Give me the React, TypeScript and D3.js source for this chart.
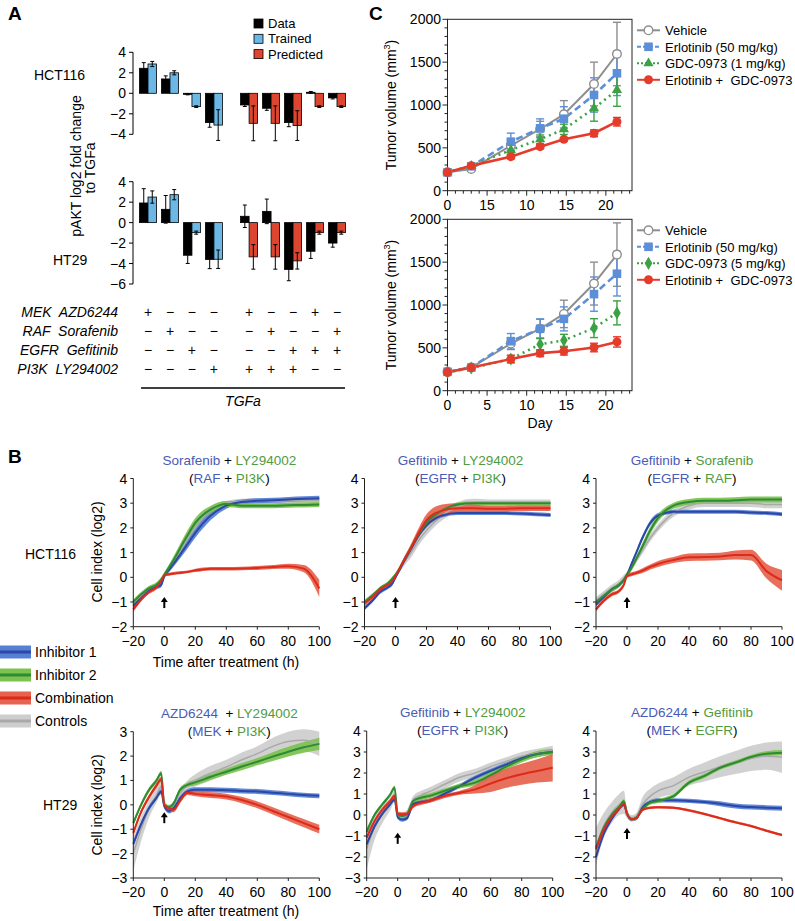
import React from 'react';
import * as d3 from 'd3';

const FONT = "'Liberation Sans', Arial, Helvetica, sans-serif";

// ================= Panel A data =================
const cellLinesA = ['HCT116', 'HT29'];
const tableRows = ['MEK  AZD6244', 'RAF  Sorafenib', 'EGFR  Gefitinib', 'PI3K  LY294002'];
const signMEK = ['+', '−', '−', '−', '+', '−', '−', '+', '−'];
const signRAF = ['−', '+', '−', '−', '−', '+', '−', '−', '+'];
const signEGFR = ['−', '−', '+', '−', '−', '−', '+', '+', '+'];
const signPI3K = ['−', '−', '−', '+', '+', '+', '+', '−', '−'];
const modelKind = ['Trained', 'Trained', 'Trained', 'Trained', 'Predicted', 'Predicted', 'Predicted', 'Predicted', 'Predicted'];
const hctData = [2.44, 1.4, -0.1, -2.86, -1.14, -1.46, -2.86, 0.1, -0.45];
const hctDataErr = [0.55, 0.3, 0.05, 0.45, 0.15, 0.2, 0.4, 0.08, 0.1];
const hctModel = [2.86, 2.0, -1.3, -3.1, -2.93, -2.93, -3.15, -1.3, -1.3];
const hctModelErr = [0.25, 0.2, 0.08, 1.5, 1.7, 1.7, 1.45, 0.08, 0.08];
const ht29Data = [1.92, 1.3, -3.19, -3.6, 0.62, 1.1, -4.58, -2.8, -2.0];
const ht29DataErr = [1.4, 1.35, 0.8, 0.9, 1.1, 1.2, 1.1, 0.7, 0.4];
const ht29Model = [2.5, 2.73, -0.98, -3.58, -3.35, -3.35, -3.74, -0.98, -0.98];
const ht29ModelErr = [0.6, 0.5, 0.15, 0.9, 1.2, 1.2, 0.8, 0.15, 0.15];
const legendA = ['Data', 'Trained', 'Predicted'];
const colorA: Record<string, string> = { Data: '#000000', Trained: '#6bb8e6', Predicted: '#dc4530' };

// ================= Panel C data =================
const days = [0, 3, 8, 11.7, 14.7, 18.5, 21.4];
const vehTop = [214, 253, 525, 720, 891, 1245, 1595];
const vehTopErr = [15, 20, 60, 90, 160, 255, 370];
const erlTop = [214, 285, 572, 728, 840, 1117, 1370];
const erlTopErr = [15, 20, 100, 110, 140, 200, 260];
const gdcTop = [214, 290, 475, 600, 716, 961, 1175];
const gdcTopErr = [15, 15, 50, 50, 60, 150, 190];
const comboTop = [214, 290, 397, 514, 600, 670, 805];
const comboTopErr = [15, 15, 25, 25, 20, 40, 50];
const vehBot = [220, 270, 550, 723, 896, 1250, 1588];
const vehBotErr = [15, 20, 70, 110, 160, 250, 370];
const erlBot = [220, 270, 577, 723, 838, 1127, 1365];
const erlBotErr = [15, 20, 90, 115, 140, 200, 260];
const gdcBot = [215, 265, 370, 542, 588, 730, 908];
const gdcBotErr = [15, 20, 40, 70, 70, 110, 140];
const comboBot = [215, 270, 369, 438, 461, 504, 569];
const comboBotErr = [15, 20, 45, 40, 45, 50, 60];
const legendCTop = ['Vehicle', 'Erlotinib (50 mg/kg)', 'GDC-0973 (1 mg/kg)', 'Erlotinib +  GDC-0973'];
const legendCBot = ['Vehicle', 'Erlotinib (50 mg/kg)', 'GDC-0973 (5 mg/kg)', 'Erlotinib +  GDC-0973'];
const xTickLabelsTop = ['0', '15', '10', '15', '20'];
const xTickLabelsBot = ['0', '5', '10', '15', '20'];
const xTickDays = [0, 5, 10, 15, 20];
const yTicksC = [0, 500, 1000, 1500, 2000];

// ================= Panel B data =================
const T = [-20, -15, -10, -5, -2, 0, 3, 6, 10, 15, 20, 30, 40, 50, 60, 70, 80, 90, 100];
// HCT116 Sorafenib + LY294002
const p1Gray = [-1.0, -0.75, -0.5, -0.3, -0.1, 0.05, 0.35, 0.65, 1.05, 1.55, 2.0, 2.75, 3.0, 3.08, 3.1, 3.1, 3.1, 3.1, 3.1];
const p1GrayHw = [0.1, 0.1, 0.1, 0.1, 0.1, 0.1, 0.1, 0.12, 0.15, 0.15, 0.15, 0.12, 0.1, 0.1, 0.1, 0.1, 0.1, 0.1, 0.1];
const p1Blue = [-1.15, -0.85, -0.55, -0.4, -0.3, 0.05, 0.3, 0.55, 0.9, 1.35, 1.8, 2.5, 2.9, 3.05, 3.1, 3.12, 3.15, 3.18, 3.2];
const p1BlueHw = [0.1, 0.08, 0.08, 0.08, 0.1, 0.08, 0.1, 0.12, 0.15, 0.18, 0.2, 0.18, 0.12, 0.1, 0.1, 0.1, 0.1, 0.1, 0.1];
const p1Green = [-1.0, -0.7, -0.45, -0.3, -0.1, 0.1, 0.4, 0.7, 1.15, 1.7, 2.2, 2.75, 2.97, 2.9, 2.9, 2.9, 2.92, 2.93, 2.95];
const p1GreenHw = [0.1, 0.1, 0.1, 0.1, 0.1, 0.1, 0.12, 0.15, 0.18, 0.2, 0.2, 0.15, 0.12, 0.1, 0.1, 0.1, 0.1, 0.1, 0.1];
const p1Red = [-1.3, -0.9, -0.6, -0.4, -0.15, 0.08, 0.12, 0.15, 0.18, 0.22, 0.28, 0.35, 0.35, 0.36, 0.38, 0.42, 0.45, 0.35, -0.45];
const p1RedHw = [0.1, 0.08, 0.08, 0.08, 0.08, 0.06, 0.06, 0.06, 0.06, 0.06, 0.07, 0.07, 0.07, 0.07, 0.08, 0.08, 0.1, 0.15, 0.35];
// HCT116 Gefitinib + LY294002
const p2Gray = [-1.0, -0.75, -0.5, -0.3, -0.1, 0.05, 0.35, 0.65, 1.0, 1.5, 1.9, 2.5, 2.85, 3.0, 3.0, 3.0, 3.0, 3.0, 3.0];
const p2GrayHw = [0.1, 0.1, 0.1, 0.1, 0.1, 0.1, 0.12, 0.15, 0.2, 0.2, 0.2, 0.2, 0.2, 0.18, 0.15, 0.15, 0.15, 0.15, 0.15];
const p2Blue = [-1.25, -0.95, -0.6, -0.4, -0.25, 0.0, 0.35, 0.7, 1.15, 1.7, 2.1, 2.5, 2.6, 2.6, 2.6, 2.6, 2.58, 2.55, 2.52];
const p2BlueHw = [0.08, 0.08, 0.08, 0.08, 0.08, 0.08, 0.08, 0.08, 0.08, 0.08, 0.08, 0.08, 0.08, 0.08, 0.08, 0.08, 0.08, 0.08, 0.08];
const p2Green = [-1.0, -0.75, -0.45, -0.25, -0.05, 0.1, 0.4, 0.75, 1.2, 1.75, 2.2, 2.7, 2.95, 3.0, 3.0, 3.0, 3.0, 3.0, 3.0];
const p2GreenHw = [0.08, 0.08, 0.08, 0.08, 0.08, 0.08, 0.08, 0.08, 0.08, 0.08, 0.08, 0.08, 0.08, 0.08, 0.08, 0.08, 0.08, 0.08, 0.08];
const p2Red = [-1.05, -0.8, -0.5, -0.3, -0.15, 0.05, 0.4, 0.75, 1.2, 1.8, 2.3, 2.7, 2.8, 2.8, 2.78, 2.78, 2.8, 2.8, 2.8];
const p2RedHw = [0.1, 0.1, 0.1, 0.1, 0.1, 0.1, 0.1, 0.12, 0.15, 0.2, 0.25, 0.25, 0.2, 0.15, 0.12, 0.12, 0.12, 0.12, 0.12];
// HCT116 Gefitinib + Sorafenib
const p3Gray = [-0.95, -0.7, -0.45, -0.25, -0.05, 0.1, 0.4, 0.7, 1.1, 1.6, 2.0, 2.6, 2.9, 3.0, 3.0, 3.0, 3.0, 2.95, 2.95];
const p3GrayHw = [0.15, 0.15, 0.15, 0.15, 0.15, 0.12, 0.12, 0.12, 0.15, 0.15, 0.15, 0.15, 0.15, 0.15, 0.15, 0.15, 0.15, 0.15, 0.15];
const p3Blue = [-1.1, -0.8, -0.5, -0.3, -0.1, 0.1, 0.55, 1.0, 1.6, 2.2, 2.5, 2.65, 2.65, 2.65, 2.65, 2.65, 2.62, 2.6, 2.55];
const p3BlueHw = [0.08, 0.08, 0.08, 0.08, 0.08, 0.08, 0.08, 0.08, 0.1, 0.1, 0.1, 0.08, 0.08, 0.08, 0.08, 0.08, 0.08, 0.08, 0.08];
const p3Green = [-1.0, -0.75, -0.5, -0.3, -0.1, 0.1, 0.4, 0.75, 1.25, 1.9, 2.4, 2.9, 3.05, 3.1, 3.1, 3.12, 3.15, 3.15, 3.15];
const p3GreenHw = [0.1, 0.1, 0.1, 0.1, 0.1, 0.1, 0.12, 0.12, 0.15, 0.15, 0.15, 0.12, 0.12, 0.12, 0.12, 0.12, 0.12, 0.12, 0.12];
const p3Red = [-1.3, -0.95, -0.7, -0.55, -0.3, 0.05, 0.12, 0.18, 0.27, 0.42, 0.54, 0.7, 0.81, 0.82, 0.84, 0.9, 0.9, 0.25, -0.12];
const p3RedHw = [0.08, 0.08, 0.08, 0.08, 0.08, 0.08, 0.08, 0.08, 0.1, 0.1, 0.12, 0.12, 0.15, 0.15, 0.15, 0.18, 0.22, 0.3, 0.42];
// HT29 AZD6244 + LY294002
const p4Gray = [-2.0, -1.0, -0.2, 0.4, 0.75, 0.05, -0.15, 0.05, 0.45, 0.8, 1.0, 1.3, 1.55, 1.85, 2.1, 2.4, 2.6, 2.65, 2.5];
const p4GrayHw = [0.7, 0.5, 0.35, 0.3, 0.3, 0.15, 0.12, 0.12, 0.15, 0.2, 0.25, 0.3, 0.3, 0.3, 0.3, 0.35, 0.4, 0.45, 0.5];
const p4Blue = [-1.6, -0.8, -0.15, 0.3, 0.55, -0.05, -0.25, -0.15, 0.25, 0.55, 0.62, 0.62, 0.6, 0.57, 0.55, 0.5, 0.45, 0.4, 0.37];
const p4BlueHw = [0.1, 0.1, 0.1, 0.1, 0.1, 0.1, 0.1, 0.1, 0.1, 0.1, 0.1, 0.1, 0.1, 0.1, 0.1, 0.1, 0.1, 0.1, 0.1];
const p4Green = [-0.75, 0.0, 0.6, 1.0, 1.3, 0.0, -0.1, 0.05, 0.6, 0.82, 0.92, 1.15, 1.36, 1.57, 1.77, 1.98, 2.18, 2.36, 2.5];
const p4GreenHw = [0.1, 0.1, 0.1, 0.1, 0.1, 0.1, 0.1, 0.1, 0.1, 0.1, 0.12, 0.12, 0.13, 0.15, 0.15, 0.18, 0.2, 0.22, 0.25];
const p4Red = [-1.15, -0.3, 0.3, 0.8, 1.05, 0.0, -0.15, -0.2, 0.15, 0.5, 0.45, 0.4, 0.34, 0.2, 0.0, -0.25, -0.5, -0.75, -1.0];
const p4RedHw = [0.1, 0.1, 0.1, 0.1, 0.1, 0.1, 0.1, 0.1, 0.1, 0.1, 0.1, 0.12, 0.12, 0.13, 0.14, 0.15, 0.16, 0.17, 0.18];
// HT29 Gefitinib + LY294002
const p5Gray = [-1.6, -0.6, 0.0, 0.5, 0.9, 0.0, -0.1, 0.1, 0.7, 0.95, 1.1, 1.45, 1.8, 2.0, 2.3, 2.55, 2.8, 2.95, 3.1];
const p5GrayHw = [1.0, 0.6, 0.4, 0.3, 0.3, 0.15, 0.15, 0.15, 0.2, 0.2, 0.2, 0.2, 0.2, 0.2, 0.2, 0.2, 0.2, 0.2, 0.2];
const p5Blue = [-1.4, -0.55, 0.05, 0.5, 0.75, -0.1, -0.22, -0.15, 0.52, 0.62, 0.67, 1.0, 1.38, 1.78, 2.1, 2.4, 2.7, 2.9, 3.0];
const p5BlueHw = [0.1, 0.1, 0.1, 0.1, 0.1, 0.1, 0.1, 0.1, 0.1, 0.1, 0.1, 0.1, 0.1, 0.1, 0.1, 0.1, 0.1, 0.1, 0.1];
const p5Green = [-0.8, 0.0, 0.5, 0.95, 1.3, 0.0, -0.05, 0.05, 0.67, 0.82, 0.9, 1.14, 1.38, 1.54, 1.9, 2.3, 2.65, 2.9, 3.0];
const p5GreenHw = [0.1, 0.1, 0.1, 0.1, 0.1, 0.1, 0.1, 0.1, 0.12, 0.12, 0.12, 0.12, 0.12, 0.14, 0.15, 0.15, 0.15, 0.15, 0.15];
const p5Red = [-1.08, -0.3, 0.25, 0.65, 0.9, 0.05, 0.03, 0.05, 0.43, 0.58, 0.67, 0.9, 1.06, 1.22, 1.5, 1.75, 1.94, 2.1, 2.25];
const p5RedHw = [0.1, 0.1, 0.1, 0.1, 0.1, 0.1, 0.1, 0.1, 0.1, 0.1, 0.1, 0.1, 0.1, 0.2, 0.4, 0.45, 0.5, 0.55, 0.65];
// HT29 AZD6244 + Gefitinib
const p6Gray = [-1.5, -0.5, 0.1, 0.5, 0.6, 0.05, -0.15, -0.05, 0.5, 0.9, 1.15, 1.4, 1.8, 2.05, 2.3, 2.5, 2.7, 2.8, 2.75];
const p6GrayHw = [0.9, 0.6, 0.5, 0.5, 0.55, 0.2, 0.15, 0.15, 0.35, 0.35, 0.35, 0.4, 0.4, 0.45, 0.5, 0.55, 0.6, 0.65, 0.75];
const p6Blue = [-2.0, -0.9, -0.2, 0.3, 0.5, 0.05, -0.2, -0.15, 0.35, 0.62, 0.7, 0.7, 0.67, 0.62, 0.54, 0.43, 0.38, 0.35, 0.32];
const p6BlueHw = [0.12, 0.1, 0.1, 0.1, 0.1, 0.1, 0.1, 0.1, 0.1, 0.1, 0.1, 0.1, 0.1, 0.1, 0.12, 0.12, 0.12, 0.12, 0.12];
const p6Green = [-1.56, -0.6, 0.0, 0.4, 0.65, 0.1, -0.2, -0.13, 0.27, 0.59, 0.67, 0.9, 1.54, 1.86, 2.25, 2.5, 2.76, 2.92, 2.97];
const p6GreenHw = [0.1, 0.1, 0.1, 0.1, 0.1, 0.08, 0.08, 0.08, 0.1, 0.1, 0.1, 0.1, 0.1, 0.1, 0.1, 0.1, 0.1, 0.12, 0.12];
const p6Red = [-1.63, -0.7, -0.1, 0.3, 0.55, 0.05, -0.2, -0.15, 0.25, 0.35, 0.37, 0.35, 0.22, 0.05, -0.15, -0.35, -0.52, -0.75, -0.95];
const p6RedHw = [0.07, 0.06, 0.06, 0.06, 0.06, 0.06, 0.06, 0.06, 0.06, 0.06, 0.06, 0.06, 0.06, 0.06, 0.06, 0.06, 0.06, 0.06, 0.06];

const legendB = ['Inhibitor 1', 'Inhibitor 2', 'Combination', 'Controls'];

const COL: Record<string, { band: string; line: string }> = {
  gray: { band: '#cdcdcd', line: '#a9a9a9' },
  blue: { band: '#5680d6', line: '#2d47a6' },
  green: { band: '#7cc24f', line: '#2f8a36' },
  red: { band: '#e6634d', line: '#dd2b1b' },
};
const BLUE_TXT = '#4a5bb4';
const GREEN_TXT = '#4f9b41';

// ================= Panel A =================
function BarPanel({ data, dataErr, model, modelErr, yDomain, yRange, ticks, label, labelX, labelY }: any) {
  const xA = d3.scaleLinear().domain([0, 8.6]).range([148, 337]);
  const y = d3.scaleLinear().domain(yDomain).range(yRange);
  const bw = 8.5;
  const slot = (i: number) => xA(i + (i >= 4 ? 0.6 : 0));
  const err = (cx: number, v: number, e: number, key: string) => (
    <g key={key} stroke="#000" strokeWidth={1}>
      <line x1={cx} x2={cx} y1={y(v + e)} y2={y(v - e)} />
      <line x1={cx - 2} x2={cx + 2} y1={y(v + e)} y2={y(v + e)} />
      <line x1={cx - 2} x2={cx + 2} y1={y(v - e)} y2={y(v - e)} />
    </g>
  );
  return (
    <g>
      <line x1={133} x2={133} y1={y(yDomain[1])} y2={y(yDomain[0])} stroke="#000" strokeWidth={1} />
      {ticks.map((t: number) => (
        <g key={t}>
          <line x1={129} x2={133} y1={y(t)} y2={y(t)} stroke="#000" />
          <text x={126} y={y(t) + 5} textAnchor="end" fontSize={14}>{t < 0 ? '−' + Math.abs(t) : t}</text>
        </g>
      ))}
      <text x={labelX} y={labelY} fontSize={14}>{label}</text>
      {data.map((v: number, i: number) => {
        const cx = slot(i);
        const m = model[i];
        return (
          <g key={i}>
            <rect x={cx - bw} width={bw} y={Math.min(y(0), y(v))} height={Math.max(0.8, Math.abs(y(v) - y(0)))} fill="#000" stroke="#000" strokeWidth={0.8} />
            <rect x={cx} width={bw} y={Math.min(y(0), y(m))} height={Math.abs(y(m) - y(0))} fill={colorA[modelKind[i]]} stroke="#000" strokeWidth={0.8} />
            {err(cx - bw / 2, v, dataErr[i], 'd' + i)}
            {err(cx + bw / 2, m, modelErr[i], 'm' + i)}
          </g>
        );
      })}
    </g>
  );
}

function PanelA() {
  const xA = d3.scaleLinear().domain([0, 8.6]).range([148, 337]);
  const slot = (i: number) => xA(i + (i >= 4 ? 0.6 : 0));
  const signs = [signMEK, signRAF, signEGFR, signPI3K];
  const rowY = [317, 336, 355, 374];
  return (
    <g>
      <text x={8} y={20} fontSize={19} fontWeight="bold">A</text>
      {legendA.map((l, i) => (
        <g key={l}>
          <rect x={254} y={19 + i * 15.3} width={9} height={9} fill={colorA[l]} stroke="#000" strokeWidth={0.8} />
          <text x={268} y={28 + i * 15.3} fontSize={13}>{l}</text>
        </g>
      ))}
      <BarPanel data={hctData} dataErr={hctDataErr} model={hctModel} modelErr={hctModelErr}
        yDomain={[-4, 4]} yRange={[134.3, 52.3]} ticks={[-4, -2, 0, 2, 4]} label={cellLinesA[0]} labelX={34} labelY={80} />
      <BarPanel data={ht29Data} dataErr={ht29DataErr} model={ht29Model} modelErr={ht29ModelErr}
        yDomain={[-6, 4]} yRange={[284, 181.7]} ticks={[-6, -4, -2, 0, 2, 4]} label={cellLinesA[1]} labelX={53} labelY={265} />
      <text transform="translate(81,166) rotate(-90)" textAnchor="middle" fontSize={14}>pAKT log2 fold change</text>
      <text transform="translate(95,168) rotate(-90)" textAnchor="middle" fontSize={14}>to TGFa</text>
      {tableRows.map((r, j) => (
        <g key={r}>
          <text x={118} y={rowY[j]} textAnchor="end" fontSize={14} fontStyle="italic" style={{ whiteSpace: 'pre' }}>{r}</text>
          {signs[j].map((s, i) => (
            <text key={i} x={slot(i)} y={rowY[j]} textAnchor="middle" fontSize={14}>{s}</text>
          ))}
        </g>
      ))}
      <line x1={141} x2={345} y1={388} y2={388} stroke="#000" strokeWidth={1.3} />
      <text x={243} y={406} textAnchor="middle" fontSize={14} fontStyle="italic">TGFa</text>
    </g>
  );
}

// ================= Panel C =================
function Marker({ kind, x, y, color, gdcShape }: any) {
  if (kind === 0) return <circle cx={x} cy={y} r={4.3} fill="#fff" stroke={color} strokeWidth={1.4} />;
  if (kind === 1) return <rect x={x - 4.3} y={y - 4.3} width={8.6} height={8.6} fill={color} />;
  if (kind === 2) {
    const sym = d3.symbol().type(gdcShape === 'tri' ? d3.symbolTriangle : d3.symbolDiamond).size(gdcShape === 'tri' ? 45 : 50);
    return <path d={sym() as string} transform={`translate(${x},${y})`} fill={color} />;
  }
  return <circle cx={x} cy={y} r={4.5} fill={color} />;
}

const C_COLORS = ['#8e8e8e', '#5d8fd8', '#3aa244', '#e53b2a'];
const C_DASH = [undefined, '7,4', '2,4', undefined];
const C_WIDTH = [2, 2.6, 2.6, 2.6];

function TumorPanel({ yTop, yBot, series, errs, legend, tickLabels, gdcShape, showDay }: any) {
  const x = d3.scaleLinear().domain([0, 23.3]).range([447.5, 632]);
  const y = d3.scaleLinear().domain([0, 2000]).range([yBot, yTop]);
  const minorX = d3.range(0, 24, 1);
  const minorY = d3.range(0, 2001, 100);
  const lineGen = d3.line<number>().x((_, i) => x(days[i])).y((v) => y(v));
  const cy = (yTop + yBot) / 2;
  return (
    <g>
      <rect x={447.5} y={yTop} width={184.5} height={yBot - yTop} fill="none" stroke="#222" strokeWidth={1} />
      {minorX.map((d) => (
        <line key={'mx' + d} x1={x(d)} x2={x(d)} y1={yBot} y2={yBot + (d % 5 === 0 ? 5 : 3)} stroke="#222" />
      ))}
      {minorY.map((d) => (
        <line key={'my' + d} x1={447.5 - (d % 500 === 0 ? 5 : 3)} x2={447.5} y1={y(d)} y2={y(d)} stroke="#222" />
      ))}
      {yTicksC.map((t) => (
        <text key={t} x={441} y={y(t) + 5} textAnchor="end" fontSize={14}>{t}</text>
      ))}
      {xTickDays.map((d, i) => (
        <text key={d} x={x(d)} y={yBot + 19} textAnchor="middle" fontSize={14}>{tickLabels[i]}</text>
      ))}
      <text transform={`translate(396,${cy}) rotate(-90)`} textAnchor="middle" fontSize={14}>
        Tumor volume (mm<tspan dy={-6} fontSize={9}>3</tspan><tspan dy={6}>)</tspan>
      </text>
      {showDay && <text x={540} y={yBot + 37} textAnchor="middle" fontSize={14}>Day</text>}
      {series.map((s: number[], k: number) => (
        <g key={k}>
          {s.map((v: number, i: number) => {
            const e = errs[k][i];
            const cx = x(days[i]);
            return (
              <g key={i} stroke={C_COLORS[k]} strokeWidth={1.4}>
                <line x1={cx} x2={cx} y1={y(v - e)} y2={y(v + e)} />
                <line x1={cx - 4} x2={cx + 4} y1={y(v - e)} y2={y(v - e)} />
                <line x1={cx - 4} x2={cx + 4} y1={y(v + e)} y2={y(v + e)} />
              </g>
            );
          })}
        </g>
      ))}
      {series.map((s: number[], k: number) => (
        <path key={'l' + k} d={lineGen(s) as string} fill="none" stroke={C_COLORS[k]} strokeWidth={C_WIDTH[k]} strokeDasharray={C_DASH[k]} />
      ))}
      {series.map((s: number[], k: number) => (
        <g key={'m' + k}>
          {s.map((v: number, i: number) => (
            <Marker key={i} kind={k} x={x(days[i])} y={y(v)} color={C_COLORS[k]} gdcShape={gdcShape} />
          ))}
        </g>
      ))}
      {legend.map((l: string, k: number) => {
        const ly = yTop + 11 + k * 16.5;
        return (
          <g key={l}>
            <line x1={637} x2={660} y1={ly} y2={ly} stroke={C_COLORS[k]} strokeWidth={2} strokeDasharray={k === 1 ? '4,2' : k === 2 ? '2,2' : undefined} />
            <Marker kind={k} x={648.5} y={ly} color={C_COLORS[k]} gdcShape={gdcShape} />
            <text x={665} y={ly + 5} fontSize={13} style={{ whiteSpace: 'pre' }}>{l}</text>
          </g>
        );
      })}
    </g>
  );
}

function PanelC() {
  return (
    <g>
      <text x={369} y={20} fontSize={19} fontWeight="bold">C</text>
      <TumorPanel yTop={19.3} yBot={190.7} series={[vehTop, erlTop, gdcTop, comboTop]}
        errs={[vehTopErr, erlTopErr, gdcTopErr, comboTopErr]} legend={legendCTop} tickLabels={xTickLabelsTop} gdcShape="tri" showDay={false} />
      <TumorPanel yTop={219.3} yBot={390.7} series={[vehBot, erlBot, gdcBot, comboBot]}
        errs={[vehBotErr, erlBotErr, gdcBotErr, comboBotErr]} legend={legendCBot} tickLabels={xTickLabelsBot} gdcShape="dia" showDay={true} />
    </g>
  );
}

// ================= Panel B =================
function GrowthPlot({ x0, yDomain, yRange, series, arrowTop, t1, t2, ticks }: any) {
  const x = d3.scaleLinear().domain([-20, 100]).range([x0, x0 + 186]);
  const y = d3.scaleLinear().domain(yDomain).range(yRange);
  const order = ['gray', 'blue', 'green', 'red'];
  const area = (m: number[], hw: number[]) =>
    d3.area<number>().x((_, i) => x(T[i])).y0((v, i) => y(v - hw[i])).y1((v, i) => y(v + hw[i])).curve(d3.curveMonotoneX)(m) as string;
  const line = (m: number[]) => d3.line<number>().x((_, i) => x(T[i])).y((v) => y(v)).curve(d3.curveMonotoneX)(m) as string;
  const cx = x0 + 93 + 3;
  const yb = yRange[0];
  return (
    <g>
      <text x={cx} y={yRange[1] - 14} textAnchor="middle" fontSize={13.5} style={{ whiteSpace: 'pre' }}>
        <tspan fill={BLUE_TXT}>{t1[0]}</tspan><tspan fill="#000">{t1[1]}</tspan><tspan fill={GREEN_TXT}>{t1[2]}</tspan>
      </text>
      <text x={cx} y={yRange[1] + 4} textAnchor="middle" fontSize={13.5}>
        <tspan fill="#000">(</tspan><tspan fill={BLUE_TXT}>{t2[0]}</tspan><tspan fill="#000"> + </tspan><tspan fill={GREEN_TXT}>{t2[1]}</tspan><tspan fill="#000">)</tspan>
      </text>
      {order.map((c) => (
        <path key={'a' + c} d={area(series[c][0], series[c][1])} fill={COL[c].band} opacity={0.92} />
      ))}
      {order.map((c) => (
        <path key={'l' + c} d={line(series[c][0])} fill="none" stroke={COL[c].line} strokeWidth={c === 'gray' ? 1.5 : 2} />
      ))}
      <line x1={x0} x2={x0} y1={yRange[0]} y2={yRange[1]} stroke="#222" />
      {ticks.map((t: number) => (
        <g key={t}>
          <line x1={x0 - 3} x2={x0} y1={y(t)} y2={y(t)} stroke="#222" />
          <text x={x0 - 6} y={y(t) + 5} textAnchor="end" fontSize={14}>{t < 0 ? '−' + Math.abs(t) : t}</text>
        </g>
      ))}
      <line x1={x0} x2={x0 + 186} y1={yb} y2={yb} stroke="#222" />
      {d3.range(-20, 101, 20).map((t) => (
        <g key={t}>
          <line x1={x(t)} x2={x(t)} y1={yb} y2={yb + 3} stroke="#222" />
          <text x={x(t)} y={yb + 19} textAnchor="middle" fontSize={14}>{t < 0 ? '−' + Math.abs(t) : t}</text>
        </g>
      ))}
      <g>
        <line x1={x(0)} x2={x(0)} y1={y(arrowTop) + 3} y2={y(arrowTop) + 11} stroke="#000" strokeWidth={2} />
        <path d={`M${x(0) - 3.5},${y(arrowTop) + 5} L${x(0)},${y(arrowTop)} L${x(0) + 3.5},${y(arrowTop) + 5} Z`} fill="#000" />
      </g>
    </g>
  );
}

function PanelB() {
  const s = (g: number[], gh: number[], b: number[], bh: number[], gr: number[], grh: number[], r: number[], rh: number[]) => ({
    gray: [g, gh], blue: [b, bh], green: [gr, grh], red: [r, rh],
  });
  const row1 = [626.7, 478.5];
  return (
    <g>
      <text x={8} y={463} fontSize={19} fontWeight="bold">B</text>
      <text x={25} y={559} fontSize={14}>HCT116</text>
      <text x={43} y={810} fontSize={14}>HT29</text>
      <text transform="translate(102,552) rotate(-90)" textAnchor="middle" fontSize={14}>Cell index (log2)</text>
      <text transform="translate(102,805) rotate(-90)" textAnchor="middle" fontSize={14}>Cell index (log2)</text>
      <text x={226} y={667} textAnchor="middle" fontSize={14}>Time after treatment (h)</text>
      <text x={226} y={916} textAnchor="middle" fontSize={14}>Time after treatment (h)</text>
      <GrowthPlot x0={133.3} yDomain={[-2, 4]} yRange={row1} ticks={[-2, -1, 0, 1, 2, 3, 4]} arrowTop={-0.8}
        series={s(p1Gray, p1GrayHw, p1Blue, p1BlueHw, p1Green, p1GreenHw, p1Red, p1RedHw)}
        t1={['Sorafenib', ' + ', 'LY294002']} t2={['RAF', 'PI3K']} />
      <GrowthPlot x0={364.5} yDomain={[-2, 4]} yRange={row1} ticks={[-2, -1, 0, 1, 2, 3, 4]} arrowTop={-0.8}
        series={s(p2Gray, p2GrayHw, p2Blue, p2BlueHw, p2Green, p2GreenHw, p2Red, p2RedHw)}
        t1={['Gefitinib', ' + ', 'LY294002']} t2={['EGFR', 'PI3K']} />
      <GrowthPlot x0={596} yDomain={[-2, 4]} yRange={row1} ticks={[-2, -1, 0, 1, 2, 3, 4]} arrowTop={-0.8}
        series={s(p3Gray, p3GrayHw, p3Blue, p3BlueHw, p3Green, p3GreenHw, p3Red, p3RedHw)}
        t1={['Gefitinib', ' + ', 'Sorafenib']} t2={['EGFR', 'RAF']} />
      <GrowthPlot x0={133.3} yDomain={[-3, 3]} yRange={[878, 731.7]} ticks={[-3, -2, -1, 0, 1, 2, 3]} arrowTop={-0.3}
        series={s(p4Gray, p4GrayHw, p4Blue, p4BlueHw, p4Green, p4GreenHw, p4Red, p4RedHw)}
        t1={['AZD6244', '  + ', 'LY294002']} t2={['MEK', 'PI3K']} />
      <GrowthPlot x0={366.7} yDomain={[-3, 4]} yRange={[878, 731]} ticks={[-3, -2, -1, 0, 1, 2, 3, 4]} arrowTop={-0.85}
        series={s(p5Gray, p5GrayHw, p5Blue, p5BlueHw, p5Green, p5GreenHw, p5Red, p5RedHw)}
        t1={['Gefitinib', ' + ', 'LY294002']} t2={['EGFR', 'PI3K']} />
      <GrowthPlot x0={596} yDomain={[-3, 4]} yRange={[878, 731]} ticks={[-3, -2, -1, 0, 1, 2, 3, 4]} arrowTop={-0.62}
        series={s(p6Gray, p6GrayHw, p6Blue, p6BlueHw, p6Green, p6GreenHw, p6Red, p6RedHw)}
        t1={['AZD6244', ' + ', 'Gefitinib']} t2={['MEK', 'EGFR']} />
      {legendB.map((l, i) => {
        const c = ['blue', 'green', 'red', 'gray'][i];
        const ly = 652 + i * 23;
        return (
          <g key={l}>
            <rect x={0} y={ly - 6.5} width={31} height={13} fill={COL[c].band} />
            <line x1={0} x2={31} y1={ly} y2={ly} stroke={COL[c].line} strokeWidth={3} />
            <text x={35} y={ly + 5} fontSize={14}>{l}</text>
          </g>
        );
      })}
    </g>
  );
}

export default function App() {
  return (
    <svg width={795} height={921} style={{ position: 'absolute', left: 0, top: 0, background: '#fff' }} fontFamily={FONT}>
      <rect width={795} height={921} fill="#fff" />
      <PanelA />
      <PanelC />
      <PanelB />
    </svg>
  );
}
